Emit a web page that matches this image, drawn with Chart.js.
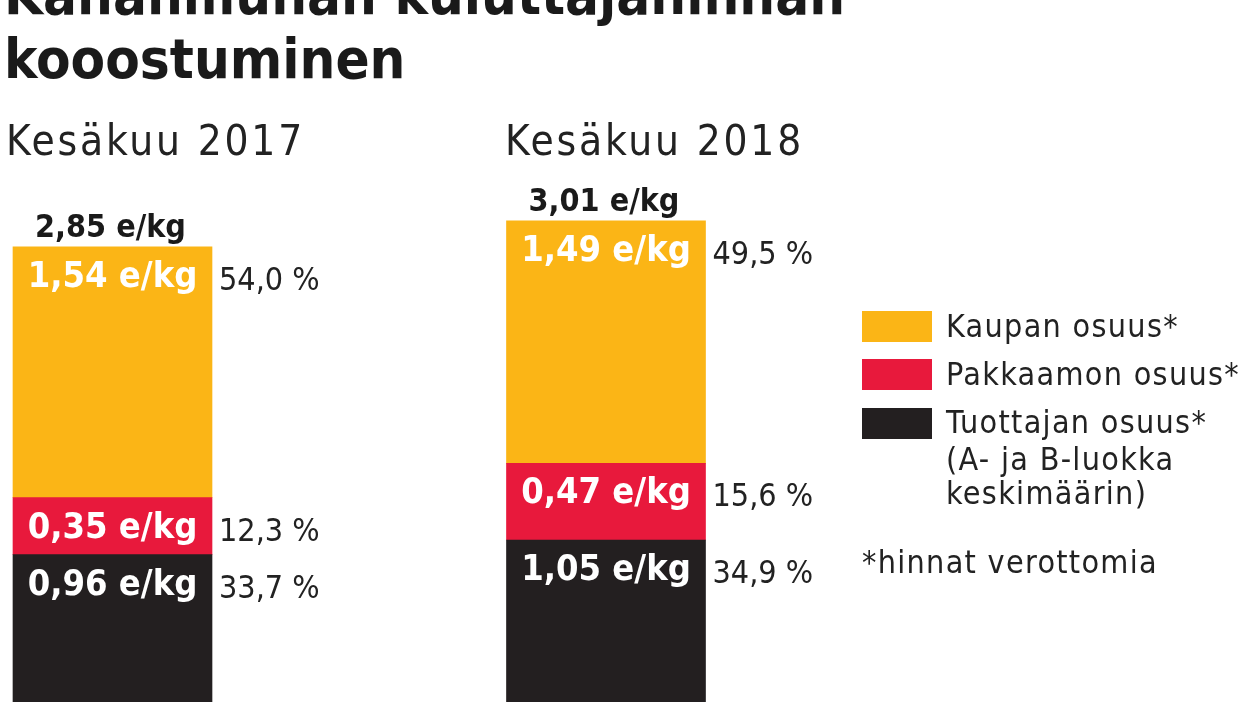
<!DOCTYPE html>
<html lang="fi">
<head>
<meta charset="utf-8">
<script src="https://cdn.jsdelivr.net/npm/chart.js@4.4.1/dist/chart.umd.min.js"></script>
<style>
  html, body { margin: 0; padding: 0; background: #ffffff; overflow: hidden; width: 1248px; height: 702px; }
  body { position: relative; font-family: 'DejaVu Sans Condensed', 'Liberation Sans Narrow', sans-serif; color: #1c1c1c; }
  #wrap { position: absolute; left: 0; top: 0; width: 1248px; height: 711px; }
  .t { position: absolute; white-space: nowrap; }
  #title { left: 4px; top: -37px; font-size: 56px; line-height: 64px; font-weight: bold; color: #1a1a1a; }
  .sub { top: 120px; font-size: 42px; line-height: 42px; color: #222; letter-spacing: 2.8px; }
  .sw { position: absolute; left: 862px; width: 70px; height: 31px; }
  .lg { left: 946px; font-size: 32px; line-height: 34px; color: #222; letter-spacing: 1.3px; }
</style>
</head>
<body>
<div id="wrap"><canvas id="c"></canvas></div>
<div id="title" class="t">Kananmunan kuluttajahinnan<br>kooostuminen</div>
<div id="sub0" class="t sub" style="left:6px"></div>
<div id="sub1" class="t sub" style="left:505px"></div>
<div id="legend"></div>
<script>
// ---- data ----
const categories = ['Kesäkuu 2017', 'Kesäkuu 2018'];
const tuottajaValues = [0.96, 1.05];
const pakkaamoValues = [0.35, 0.47];
const kauppaValues = [1.54, 1.49];
const totalValues = [2.85, 3.01];
const tuottajaPct = ['33,7 %', '34,9 %'];
const pakkaamoPct = ['12,3 %', '15,6 %'];
const kauppaPct = ['54,0 %', '49,5 %'];
const seriesLabels = ['Tuottajan osuus*', 'Pakkaamon osuus*', 'Kaupan osuus*'];
const seriesColors = ['#231f20', '#e8193c', '#fbb516'];
const legendNote = ['(A- ja B-luokka', 'keskimäärin)'];
const footnote = '*hinnat verottomia';

// ---- html texts ----
document.getElementById('sub0').textContent = categories[0];
document.getElementById('sub1').textContent = categories[1];
const legend = document.getElementById('legend');
const legendOrder = [2, 1, 0];
const swTops = [311, 359, 408];
const txtBase = [337, 385, 433];
legendOrder.forEach((di, k) => {
  const sw = document.createElement('div');
  sw.className = 'sw';
  sw.style.top = swTops[k] + 'px';
  sw.style.background = seriesColors[di];
  legend.appendChild(sw);
  const tx = document.createElement('div');
  tx.className = 't lg';
  tx.style.top = (txtBase[k] - 28) + 'px';
  tx.textContent = seriesLabels[di];
  legend.appendChild(tx);
});
[470, 504].forEach((b, k) => {
  const tx = document.createElement('div');
  tx.className = 't lg';
  tx.style.top = (b - 28) + 'px';
  tx.textContent = legendNote[k];
  legend.appendChild(tx);
});
const fn = document.createElement('div');
fn.className = 't lg';
fn.style.left = '862px';
fn.style.top = (573 - 28) + 'px';
fn.textContent = footnote;
legend.appendChild(fn);

// ---- chart ----
const fmt = v => v.toFixed(2).replace('.', ',') + ' e/kg';
const pctArrays = [tuottajaPct, pakkaamoPct, kauppaPct];

const labelPlugin = {
  id: 'barLabels',
  afterDatasetsDraw(chart) {
    const ctx = chart.ctx;
    ctx.save();
    ctx.textBaseline = 'alphabetic';
    chart.data.datasets.forEach((ds, di) => {
      const meta = chart.getDatasetMeta(di);
      meta.data.forEach((el, i) => {
        const top = el.y;
        ctx.fillStyle = '#ffffff';
        ctx.textAlign = 'center';
        ctx.font = "bold 36px 'DejaVu Sans Condensed', 'Liberation Sans Narrow', sans-serif";
        ctx.fillText(fmt(ds.data[i]), el.x, top + 40);
        ctx.fillStyle = '#222222';
        ctx.textAlign = 'left';
        ctx.font = "32px 'DejaVu Sans Condensed', 'Liberation Sans Narrow', sans-serif";
        ctx.fillText(pctArrays[di][i], el.x + el.width / 2 + 7, top + 43);
      });
    });
    // totals above stacks
    const topMeta = chart.getDatasetMeta(chart.data.datasets.length - 1);
    topMeta.data.forEach((el, i) => {
      ctx.fillStyle = '#1a1a1a';
      ctx.textAlign = 'center';
      ctx.font = "bold 32px 'DejaVu Sans Condensed', 'Liberation Sans Narrow', sans-serif";
      ctx.fillText(fmt(totalValues[i]), el.x - 2, el.y - 10);
    });
    ctx.restore();
  }
};

const dataSeries = [tuottajaValues, pakkaamoValues, kauppaValues];
new Chart(document.getElementById('c'), {
  type: 'bar',
  data: {
    labels: categories,
    datasets: dataSeries.map((d, i) => ({
      label: seriesLabels[i],
      data: d,
      backgroundColor: seriesColors[i],
      borderWidth: 0,
      barThickness: 199,
      clip: false
    }))
  },
  options: {
    responsive: true,
    maintainAspectRatio: false,
    animation: false,
    events: [],
    layout: { padding: { left: 112.5, right: 642, top: 0, bottom: 0 } },
    scales: {
      x: { type: 'category', stacked: true, offset: false, display: false },
      y: { stacked: true, min: 0, max: 4.365, display: false }
    },
    plugins: { legend: { display: false }, tooltip: { enabled: false }, title: { display: false } }
  },
  plugins: [labelPlugin]
});
</script>
</body>
</html>
